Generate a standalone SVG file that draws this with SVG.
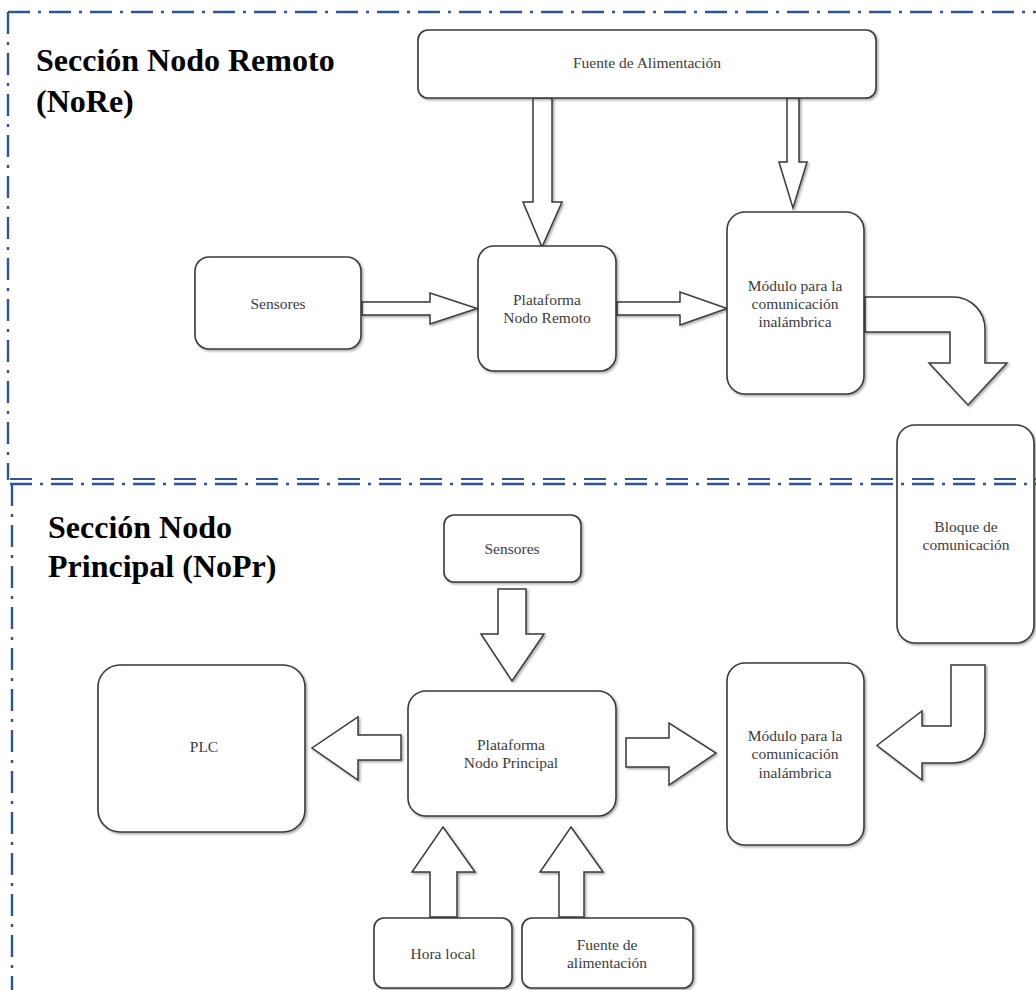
<svg xmlns="http://www.w3.org/2000/svg" width="1036" height="990" viewBox="0 0 1036 990">
<defs>
<filter id="sh" x="-10%" y="-10%" width="130%" height="130%">
<feDropShadow dx="1.5" dy="1.5" stdDeviation="1" flood-color="#000" flood-opacity="0.35"/>
</filter>
<style>
.box{fill:#fff;stroke:#3a3a3a;stroke-width:1.6;filter:url(#sh)}
.arr{fill:#fff;stroke:#3a3a3a;stroke-width:1.5;stroke-linejoin:miter;filter:url(#sh)}
.t{font-family:"Liberation Serif","Times New Roman",serif;font-size:15.5px;fill:#3c3c3c;text-anchor:middle}
.title{font-family:"Liberation Serif","Times New Roman",serif;font-size:32px;font-weight:bold;fill:#000}
.frame{fill:none;stroke:#2F5597;stroke-width:2.4;stroke-dasharray:22 8 3 8}
.frame2{fill:none;stroke:#2F5597;stroke-width:2;stroke-dasharray:22 19}
</style>
</defs>
<rect width="1036" height="990" fill="#fff"/>

<g id="titles">
<text class="title" x="36" y="71">Sección Nodo Remoto</text>
<text class="title" x="36" y="112">(NoRe)</text>
<text class="title" x="48" y="538">Sección Nodo</text>
<text class="title" x="48" y="577">Principal (NoPr)</text>
</g>

<g id="connectors">
<polygon class="arr" points="533,98 552,98 552,202 562,202 542,247 523,202 533,202"/>
<polygon class="arr" points="787,98 799,98 799,162 807,162 793,208 779,162 787,162"/>
<polygon class="arr" points="362,302 430,302 430,293 477,308.5 430,324 430,315 362,315"/>
<polygon class="arr" points="617,302 680,302 680,292 727,308.5 680,325 680,315 617,315"/>
<path class="arr" d="M865,297 L953,297 A32,32 0 0 1 985,329 L985,363 L1007,363 L968,405 L929,363 L950,363 L950,332 L865,332 Z"/>
<path class="arr" d="M951,665 L985,665 L985,731 A32,32 0 0 1 953,763 L922,763 L922,780 L877,745.5 L922,711 L922,726 L951,726 Z"/>
<polygon class="arr" points="498,589 526,589 526,634 544,634 512,681 481,634 498,634"/>
<polygon class="arr" points="401,735 401,760 358,760 358,780 312,748 358,717 358,735"/>
<polygon class="arr" points="626,738 669,738 669,723 716,753 669,785 669,767 626,767"/>
<polygon class="arr" points="430,917 457,917 457,872 475,872 443,827 412,872 430,872"/>
<polygon class="arr" points="559,917 584,917 584,872 603,872 571,827 540,872 559,872"/>
</g>

<g id="fuente-alimentacion-top">
<rect class="box" x="418" y="30" width="458" height="68" rx="10"/>
<text class="t" x="647" y="68">Fuente de Alimentación</text>
</g>
<g id="sensores-top">
<rect class="box" x="195" y="257" width="166" height="92" rx="14"/>
<text class="t" x="278" y="309">Sensores</text>
</g>
<g id="plataforma-remoto">
<rect class="box" x="478" y="246" width="138" height="125" rx="16"/>
<text class="t" x="547" y="305">Plataforma</text>
<text class="t" x="547" y="323">Nodo Remoto</text>
</g>
<g id="modulo-top">
<rect class="box" x="727" y="212" width="137" height="182" rx="18"/>
<text class="t" x="795" y="291">Módulo para la</text>
<text class="t" x="795" y="309">comunicación</text>
<text class="t" x="795" y="327">inalámbrica</text>
</g>
<g id="bloque-comunicacion">
<rect class="box" x="897" y="425" width="137" height="218" rx="18"/>
<text class="t" x="966" y="532">Bloque de</text>
<text class="t" x="966" y="550">comunicación</text>
</g>
<g id="sensores-bottom">
<rect class="box" x="444" y="515" width="137" height="67" rx="10"/>
<text class="t" x="512" y="554">Sensores</text>
</g>
<g id="plc">
<rect class="box" x="98" y="665" width="207" height="167" rx="22"/>
<text class="t" x="204" y="752">PLC</text>
</g>
<g id="plataforma-principal">
<rect class="box" x="408" y="691" width="208" height="125" rx="18"/>
<text class="t" x="511" y="750">Plataforma</text>
<text class="t" x="511" y="768">Nodo Principal</text>
</g>
<g id="modulo-bottom">
<rect class="box" x="727" y="663" width="137" height="182" rx="18"/>
<text class="t" x="795" y="741">Módulo para la</text>
<text class="t" x="795" y="759">comunicación</text>
<text class="t" x="795" y="778">inalámbrica</text>
</g>
<g id="hora-local">
<rect class="box" x="374" y="918" width="138" height="70" rx="10"/>
<text class="t" x="443" y="959">Hora local</text>
</g>
<g id="fuente-alimentacion-bottom">
<rect class="box" x="522" y="918" width="171" height="70" rx="10"/>
<text class="t" x="607" y="950">Fuente de</text>
<text class="t" x="607" y="968">alimentación</text>
</g>

<g id="frame">
<line class="frame" x1="8" y1="12" x2="1036" y2="12"/>
<line class="frame" x1="8" y1="12" x2="8" y2="480"/>
<line class="frame2" x1="10" y1="479" x2="1036" y2="479"/>
<line class="frame" x1="10" y1="484" x2="1036" y2="484"/>
<line class="frame" x1="12" y1="484" x2="12" y2="990"/>
</g>
</svg>
